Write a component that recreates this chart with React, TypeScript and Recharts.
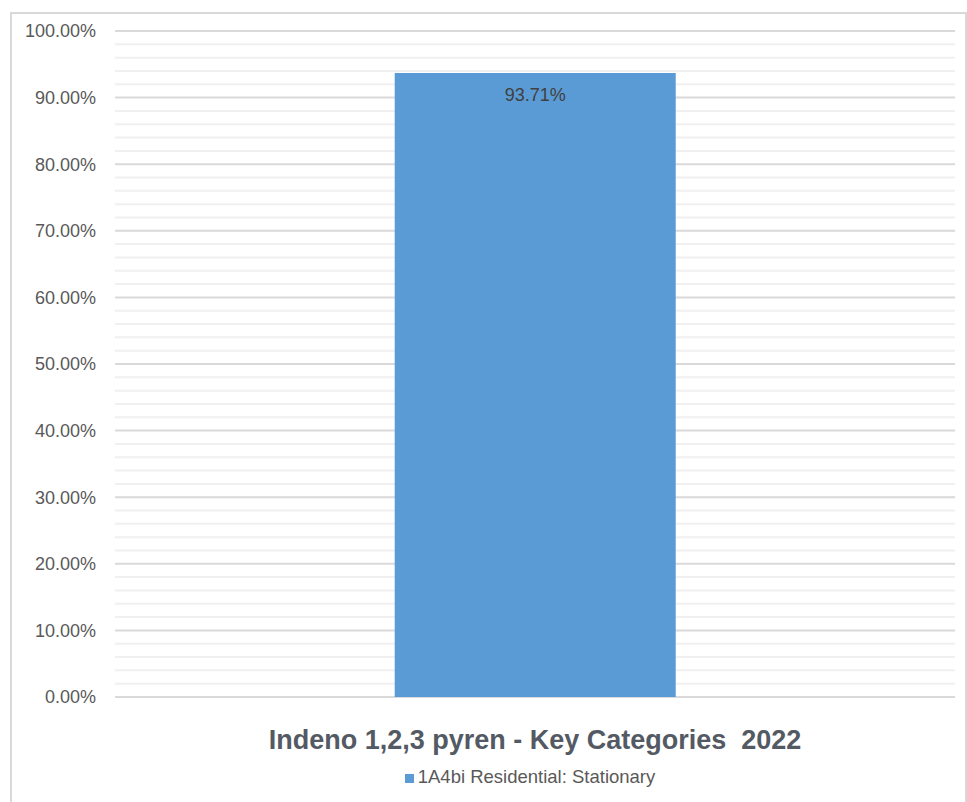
import React from 'react';
import { BarChart, Bar, XAxis, YAxis, CartesianGrid, LabelList, Legend } from 'recharts';

const categories = ['1A4bi Residential: Stationary'];
const shares = [93.71];
const yTicks = [0, 10, 20, 30, 40, 50, 60, 70, 80, 90, 100];
const minorLines = [2, 4, 6, 8, 12, 14, 16, 18, 22, 24, 26, 28, 32, 34, 36, 38, 42, 44, 46, 48, 52, 54, 56, 58, 62, 64, 66, 68, 72, 74, 76, 78, 82, 84, 86, 88, 92, 94, 96, 98];
const title = 'Indeno 1,2,3 pyren - Key Categories\u00a0\u00a02022';

const data = categories.map((name, i) => ({ name, value: shares[i] }));

const W = 967;
const H = 802;

export default function App() {
  return (
    <div style={{ position: 'absolute', left: 0, top: 0, width: W, height: H, background: '#fff', overflow: 'hidden' }}>
      <div style={{ position: 'absolute', left: 10, top: 12, width: 957, height: 820, border: '2px solid #d9d9d9', boxSizing: 'border-box' }} />
      <BarChart width={W} height={H} data={data} margin={{ top: 31, right: 12, bottom: 105, left: 0 }} barCategoryGap="33.3%">
        <CartesianGrid vertical={false} horizontalValues={minorLines} stroke="#f0f0f0" strokeWidth={2} />
        <CartesianGrid vertical={false} horizontalValues={yTicks} stroke="#d9d9d9" strokeWidth={2} />
        <XAxis dataKey="name" hide />
        <YAxis
          width={115}
          domain={[0, 100]}
          ticks={yTicks}
          interval={0}
          axisLine={false}
          tickLine={false}
          tickSize={0}
          tickMargin={19}
          tick={{ fill: '#595959', fontSize: 18, fontFamily: 'Liberation Sans, Arial, sans-serif' }}
          tickFormatter={(v: number) => `${v.toFixed(2)}%`}
        />
        <Legend
          layout="horizontal"
          align="center"
          verticalAlign="middle"
          iconType="square"
          iconSize={9}
          wrapperStyle={{ top: 766, left: 115, width: 840, fontFamily: 'Liberation Sans, Arial, sans-serif', fontSize: 18.5 }}
          formatter={(v: string) => <span style={{ color: '#595959' }}>{v}</span>}
        />
        <Bar dataKey="value" name={categories[0]} fill="#5b9bd5" isAnimationActive={false}>
          <LabelList
            dataKey="value"
            position="insideTop"
            offset={15}
            formatter={(v: number) => `${v.toFixed(2)}%`}
            style={{ fill: '#404040', fontSize: 18, fontFamily: 'Liberation Sans, Arial, sans-serif' }}
          />
        </Bar>
      </BarChart>
      <div style={{ position: 'absolute', left: 115, top: 724, width: 840, textAlign: 'center', fontFamily: 'Liberation Sans, Arial, sans-serif', fontWeight: 'bold', fontSize: 27, color: '#535a63', lineHeight: '32px' }}>
        {title}
      </div>
    </div>
  );
}
